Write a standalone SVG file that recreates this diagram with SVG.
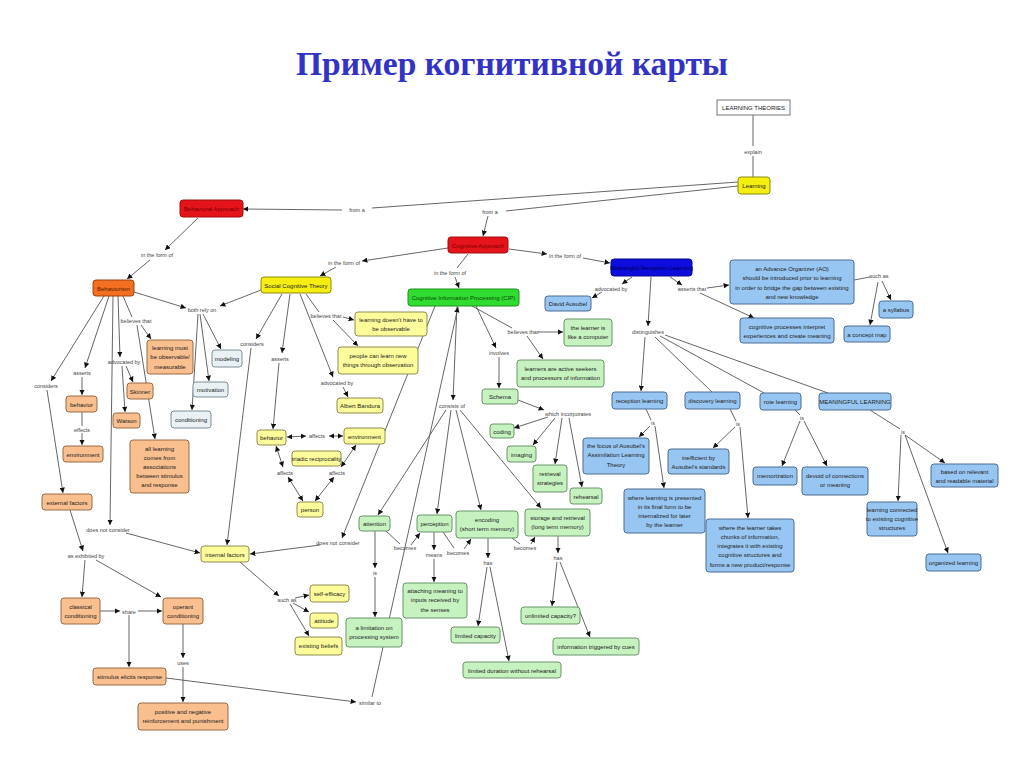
<svg xmlns="http://www.w3.org/2000/svg" width="1024" height="767" viewBox="0 0 1024 767">
<style>
.t{font-family:'Liberation Sans',Arial,sans-serif;font-size:6px;fill:#222;text-anchor:middle}
.k{font-family:'Liberation Sans',Arial,sans-serif;font-size:5.5px;fill:#444;text-anchor:middle}
rect{stroke-width:1}
.red{fill:#e5131a;stroke:#a01010}
.org{fill:#f36f21;stroke:#a04010}
.pch{fill:#f9bf8e;stroke:#9a6a45}
.yel{fill:#f5ee10;stroke:#8a8a10}
.lyl{fill:#fdfc9a;stroke:#8e8c50}
.grn{fill:#2fdc2f;stroke:#1f8f1f}
.lgr{fill:#c6f2c0;stroke:#6a956a}
.dbl{fill:#0d0dde;stroke:#070790}
.lbl{fill:#98c6f2;stroke:#4d6d94}
.gry{fill:#e9f1f4;stroke:#7d8e96}
.wht{fill:#fff;stroke:#777}
#edges line{stroke:#555;stroke-width:0.9;fill:none}
#edges .a{marker-end:url(#ah)}
#edges .d{marker-end:url(#ah);marker-start:url(#ah)}
</style>
<defs>
<marker id="ah" viewBox="0 0 10 10" refX="10" refY="5" markerWidth="6" markerHeight="6" orient="auto-start-reverse"><path d="M0,0 L10,5 L0,10 z" fill="#111"/></marker>
</defs>
<rect width="1024" height="767" fill="#fff"/>
<text x="512" y="75" font-family="'Liberation Serif','Times New Roman',serif" font-size="33.5" font-weight="bold" fill="#3232c4" text-anchor="middle">Пример когнитивной карты</text>

<g id="edges">
<line x1="753" y1="115" x2="753" y2="146"/>
<line x1="753" y1="156" x2="753" y2="177"/>
<line x1="738" y1="182" x2="372" y2="208"/>
<line class="a" x1="342" y1="210" x2="243" y2="209"/>
<line x1="738" y1="186" x2="506" y2="211"/>
<line class="a" x1="488" y1="216" x2="483" y2="236"/>
<line class="a" x1="198" y1="218" x2="165" y2="250"/>
<line class="a" x1="150" y1="260" x2="127" y2="279"/>
<line class="a" x1="448" y1="248" x2="362" y2="261"/>
<line class="a" x1="336" y1="267" x2="320" y2="276"/>
<line x1="468" y1="254" x2="457" y2="268"/>
<line class="a" x1="455" y1="277" x2="459" y2="288"/>
<line class="a" x1="509" y1="249" x2="547" y2="254"/>
<line class="a" x1="583" y1="258" x2="610" y2="263"/>
<line class="a" x1="632" y1="277" x2="622" y2="284"/>
<line class="a" x1="602" y1="292" x2="592" y2="298"/>
<line class="a" x1="670" y1="277" x2="682" y2="285"/>
<line class="a" x1="707" y1="288" x2="729" y2="285"/>
<line class="a" x1="700" y1="293" x2="754" y2="318"/>
<line class="a" x1="651" y1="277" x2="648" y2="326"/>
<line class="a" x1="645" y1="337" x2="641" y2="391"/>
<line x1="655" y1="337" x2="712" y2="392"/>
<line x1="660" y1="336" x2="764" y2="393"/>
<line x1="665" y1="335" x2="828" y2="393"/>
<line x1="854" y1="280" x2="870" y2="277"/>
<line class="a" x1="882" y1="281" x2="891" y2="300"/>
<line class="a" x1="878" y1="282" x2="870" y2="325"/>
<line x1="646" y1="409" x2="651" y2="420"/>
<line class="a" x1="650" y1="426" x2="639" y2="437"/>
<line class="a" x1="655" y1="426" x2="664" y2="488"/>
<line x1="730" y1="409" x2="736" y2="421"/>
<line class="a" x1="735" y1="427" x2="713" y2="448"/>
<line class="a" x1="740" y1="427" x2="748" y2="518"/>
<line x1="795" y1="410" x2="800" y2="415"/>
<line class="a" x1="800" y1="421" x2="782" y2="466"/>
<line class="a" x1="804" y1="421" x2="827" y2="466"/>
<line x1="870" y1="410" x2="900" y2="429"/>
<line class="a" x1="905" y1="435" x2="945" y2="463"/>
<line class="a" x1="901" y1="435" x2="898" y2="501"/>
<line class="a" x1="905" y1="435" x2="948" y2="553"/>
<line x1="472" y1="306" x2="512" y2="328"/>
<line class="a" x1="538" y1="332" x2="563" y2="332"/>
<line class="a" x1="527" y1="336" x2="543" y2="359"/>
<line class="a" x1="476" y1="306" x2="496" y2="348"/>
<line class="a" x1="499" y1="357" x2="499" y2="388"/>
<line class="a" x1="518" y1="400" x2="544" y2="410"/>
<line class="a" x1="548" y1="417" x2="514" y2="428"/>
<line class="a" x1="555" y1="418" x2="533" y2="445"/>
<line class="a" x1="562" y1="418" x2="555" y2="464"/>
<line class="a" x1="569" y1="418" x2="582" y2="487"/>
<line class="a" x1="457" y1="306" x2="453" y2="400"/>
<line class="a" x1="446" y1="410" x2="378" y2="515"/>
<line class="a" x1="451" y1="410" x2="437" y2="514"/>
<line class="a" x1="456" y1="410" x2="481" y2="510"/>
<line class="a" x1="460" y1="410" x2="541" y2="508"/>
<line class="a" x1="435" y1="306" x2="342" y2="538"/>
<line class="a" x1="320" y1="545" x2="250" y2="554"/>
<line class="a" x1="372" y1="697" x2="458" y2="307"/>
<line class="a" x1="166" y1="678" x2="356" y2="702"/>
<line class="a" x1="375" y1="531" x2="375" y2="568"/>
<line class="a" x1="375" y1="577" x2="375" y2="617"/>
<line x1="386" y1="531" x2="400" y2="544"/>
<line class="a" x1="411" y1="545" x2="420" y2="533"/>
<line class="a" x1="434" y1="532" x2="434" y2="550"/>
<line class="a" x1="434" y1="559" x2="434" y2="582"/>
<line x1="443" y1="532" x2="454" y2="548"/>
<line class="a" x1="464" y1="549" x2="471" y2="539"/>
<line x1="512" y1="538" x2="520" y2="544"/>
<line class="a" x1="531" y1="544" x2="535" y2="537"/>
<line class="a" x1="488" y1="538" x2="488" y2="558"/>
<line class="a" x1="487" y1="567" x2="478" y2="626"/>
<line class="a" x1="490" y1="567" x2="509" y2="661"/>
<line class="a" x1="558" y1="536" x2="558" y2="553"/>
<line class="a" x1="557" y1="562" x2="552" y2="606"/>
<line class="a" x1="560" y1="562" x2="590" y2="637"/>
<line class="a" x1="134" y1="292" x2="186" y2="308"/>
<line class="a" x1="261" y1="290" x2="220" y2="306"/>
<line class="a" x1="203" y1="314" x2="221" y2="349"/>
<line class="a" x1="200" y1="314" x2="209" y2="381"/>
<line class="a" x1="198" y1="314" x2="192" y2="410"/>
<line x1="123" y1="296" x2="132" y2="317"/>
<line class="a" x1="141" y1="325" x2="151" y2="339"/>
<line class="a" x1="137" y1="325" x2="155" y2="439"/>
<line class="a" x1="118" y1="296" x2="120" y2="357"/>
<line class="a" x1="126" y1="366" x2="133" y2="382"/>
<line class="a" x1="122" y1="366" x2="125" y2="412"/>
<line class="a" x1="109" y1="296" x2="85" y2="368"/>
<line class="a" x1="82" y1="377" x2="82" y2="395"/>
<line x1="82" y1="412" x2="82" y2="426"/>
<line class="a" x1="82" y1="433" x2="82" y2="445"/>
<line class="a" x1="104" y1="296" x2="51" y2="381"/>
<line class="a" x1="47" y1="390" x2="63" y2="493"/>
<line class="a" x1="113" y1="296" x2="110" y2="525"/>
<line class="a" x1="126" y1="533" x2="200" y2="553"/>
<line class="a" x1="70" y1="510" x2="83" y2="551"/>
<line class="a" x1="85" y1="560" x2="82" y2="597"/>
<line class="a" x1="96" y1="560" x2="161" y2="597"/>
<line class="a" x1="100" y1="611" x2="120" y2="611"/>
<line class="a" x1="138" y1="611" x2="162" y2="611"/>
<line class="a" x1="129" y1="615" x2="129" y2="667"/>
<line class="a" x1="183" y1="624" x2="183" y2="658"/>
<line class="a" x1="183" y1="667" x2="183" y2="702"/>
<line class="a" x1="282" y1="294" x2="256" y2="339"/>
<line class="a" x1="251" y1="348" x2="227" y2="545"/>
<line class="a" x1="290" y1="294" x2="282" y2="353"/>
<line class="a" x1="279" y1="363" x2="273" y2="429"/>
<line x1="306" y1="294" x2="319" y2="312"/>
<line class="a" x1="343" y1="317" x2="354" y2="320"/>
<line class="a" x1="333" y1="320" x2="358" y2="346"/>
<line class="a" x1="300" y1="294" x2="333" y2="377"/>
<line class="a" x1="343" y1="387" x2="348" y2="397"/>
<line class="d" x1="287" y1="437" x2="306" y2="436"/>
<line class="d" x1="329" y1="436" x2="343" y2="436"/>
<line class="d" x1="276" y1="446" x2="283" y2="467"/>
<line class="d" x1="288" y1="477" x2="303" y2="501"/>
<line class="d" x1="356" y1="445" x2="341" y2="467"/>
<line class="d" x1="334" y1="477" x2="315" y2="501"/>
<line class="a" x1="240" y1="562" x2="279" y2="596"/>
<line class="a" x1="295" y1="598" x2="309" y2="595"/>
<line class="a" x1="293" y1="603" x2="309" y2="612"/>
<line class="a" x1="290" y1="604" x2="309" y2="636"/>
</g>

<g id="linklabels">
<text class="k" x="753" y="154">explain</text>
<text class="k" x="357" y="212">from a</text>
<text class="k" x="490" y="214">from a</text>
<text class="k" x="157" y="257">in the form of</text>
<text class="k" x="344" y="265">in the form of</text>
<text class="k" x="450" y="275">in the form of</text>
<text class="k" x="565" y="258">in the form of</text>
<text class="k" x="611" y="291">advocated by</text>
<text class="k" x="692" y="291">asserts that</text>
<text class="k" x="879" y="278">such as</text>
<text class="k" x="648" y="334">distinguishes</text>
<text class="k" x="523" y="334">believes that</text>
<text class="k" x="499" y="355">involves</text>
<text class="k" x="568" y="416">which incorporates</text>
<text class="k" x="653" y="425">is</text>
<text class="k" x="738" y="426">is</text>
<text class="k" x="802" y="420">is</text>
<text class="k" x="903" y="434">is</text>
<text class="k" x="202" y="312">both rely on</text>
<text class="k" x="136" y="323">believes that</text>
<text class="k" x="46" y="388">considers</text>
<text class="k" x="82" y="375">asserts</text>
<text class="k" x="124" y="364">advocated by</text>
<text class="k" x="82" y="432">effects</text>
<text class="k" x="108" y="532">does not consider</text>
<text class="k" x="86" y="558">as exhibited by</text>
<text class="k" x="129" y="614">share</text>
<text class="k" x="183" y="665">uses</text>
<text class="k" x="370" y="705">similar to</text>
<text class="k" x="252" y="346">considers</text>
<text class="k" x="280" y="361">asserts</text>
<text class="k" x="326" y="318">believes that</text>
<text class="k" x="337" y="385">advocated by</text>
<text class="k" x="317" y="438">affects</text>
<text class="k" x="285" y="475">affects</text>
<text class="k" x="337" y="475">affects</text>
<text class="k" x="287" y="602">such as</text>
<text class="k" x="452" y="408">consists of</text>
<text class="k" x="338" y="545">does not consider</text>
<text class="k" x="405" y="550">becomes</text>
<text class="k" x="434" y="557">means</text>
<text class="k" x="458" y="555">becomes</text>
<text class="k" x="525" y="550">becomes</text>
<text class="k" x="375" y="575">is</text>
<text class="k" x="488" y="565">has</text>
<text class="k" x="558" y="560">has</text>
</g>

<g id="n-learning-theories"><rect class="wht" x="717" y="100" width="73" height="15"/><text class="t" x="753.5" y="110">LEARNING THEORIES</text></g>
<g id="n-learning"><rect class="yel" x="738" y="177" width="32" height="17" rx="3"/><text class="t" x="754" y="188">Learning</text></g>
<g id="n-behavioral-approach"><rect class="red" x="180" y="200" width="63" height="17" rx="3"/><text class="t" x="211.5" y="211" style="fill:#7a0000">Behavioral Approach</text></g>
<g id="n-cognitive-approach"><rect class="red" x="448" y="237" width="60" height="16" rx="3"/><text class="t" x="478" y="247.5" style="fill:#7a0000">Cognitive Approach</text></g>
<g id="n-meaningful-reception"><rect class="dbl" x="611" y="259" width="81" height="17" rx="3"/><text class="t" x="651.5" y="270" style="fill:#000050">Meaningful Reception Learning</text></g>
<g id="n-david-ausubel"><rect class="lbl" x="545" y="296" width="46" height="15" rx="3"/><text class="t" x="568" y="306">David Ausubel</text></g>
<g id="n-advance-organizer"><rect class="lbl" x="730" y="260" width="124" height="44" rx="3"/><text class="t" x="792" y="271">an Advance Organizer (AO)<tspan x="792" dy="9.3">should be introduced prior to learning</tspan><tspan x="792" dy="9.3">in order to bridge the gap between existing</tspan><tspan x="792" dy="9.3">and new knowledge</tspan></text></g>
<g id="n-syllabus"><rect class="lbl" x="879" y="301" width="34" height="17" rx="3"/><text class="t" x="896" y="312">a syllabus</text></g>
<g id="n-concept-map"><rect class="lbl" x="844" y="326" width="46" height="16" rx="3"/><text class="t" x="867" y="336.5">a concept map</text></g>
<g id="n-cognitive-processes"><rect class="lbl" x="740" y="318" width="94" height="25" rx="3"/><text class="t" x="787" y="328.5">cognitive processes interpret<tspan x="787" dy="9">experiences and create meaning</tspan></text></g>
<g id="n-learner-computer"><rect class="lgr" x="564" y="319" width="48" height="27" rx="3"/><text class="t" x="588" y="330">the learner is<tspan x="588" dy="9">like a computer</tspan></text></g>
<g id="n-active-seekers"><rect class="lgr" x="517" y="360" width="87" height="27" rx="3"/><text class="t" x="560.5" y="371">learners are active seekers<tspan x="560.5" dy="9">and processors of information</tspan></text></g>
<g id="n-schema"><rect class="lgr" x="482" y="389" width="36" height="15" rx="3"/><text class="t" x="500" y="399">Schema</text></g>
<g id="n-coding"><rect class="lgr" x="490" y="424" width="24" height="14" rx="3"/><text class="t" x="502" y="433.5">coding</text></g>
<g id="n-imaging"><rect class="lgr" x="507" y="446" width="29" height="16" rx="3"/><text class="t" x="521.5" y="456.5">imaging</text></g>
<g id="n-retrieval"><rect class="lgr" x="533" y="465" width="34" height="27" rx="3"/><text class="t" x="550" y="476">retrieval<tspan x="550" dy="9">strategies</tspan></text></g>
<g id="n-rehearsal"><rect class="lgr" x="570" y="488" width="32" height="16" rx="3"/><text class="t" x="586" y="498.5">rehearsal</text></g>
<g id="n-reception"><rect class="lbl" x="612" y="392" width="55" height="17" rx="3"/><text class="t" x="639.5" y="403">reception learning</text></g>
<g id="n-discovery"><rect class="lbl" x="685" y="392" width="55" height="17" rx="3"/><text class="t" x="712.5" y="403">discovery learning</text></g>
<g id="n-rote"><rect class="lbl" x="760" y="393" width="41" height="17" rx="3"/><text class="t" x="780.5" y="404">rote learning</text></g>
<g id="n-meaningful"><rect class="lbl" x="819" y="393" width="72" height="17" rx="3"/><text class="t" x="855" y="404">MEANINGFUL LEARNING</text></g>
<g id="n-focus"><rect class="lbl" x="583" y="438" width="66" height="36" rx="3"/><text class="t" x="616" y="448">the focus of Ausubel's<tspan x="616" dy="9.3">Assimilation Learning</tspan><tspan x="616" dy="9.3">Theory</tspan></text></g>
<g id="n-inefficient"><rect class="lbl" x="668" y="449" width="61" height="25" rx="3"/><text class="t" x="698.5" y="459.5">inefficient by<tspan x="698.5" dy="9">Ausubel's standards</tspan></text></g>
<g id="n-final-form"><rect class="lbl" x="624" y="489" width="81" height="44" rx="3"/><text class="t" x="664.5" y="499.5">where learning is presented<tspan x="664.5" dy="9.3">in its final form to be</tspan><tspan x="664.5" dy="9.3">internalized for later</tspan><tspan x="664.5" dy="9.3">by the learner</tspan></text></g>
<g id="n-chunks"><rect class="lbl" x="706" y="519" width="88" height="53" rx="3"/><text class="t" x="750" y="529.5">where the learner takes<tspan x="750" dy="9.3">chunks of information,</tspan><tspan x="750" dy="9.3">integrates it with existing</tspan><tspan x="750" dy="9.3">cognitive structures and</tspan><tspan x="750" dy="9.3">forms a new product/response</tspan></text></g>
<g id="n-memorization"><rect class="lbl" x="753" y="467" width="44" height="18" rx="3"/><text class="t" x="775" y="478">memorization</text></g>
<g id="n-devoid"><rect class="lbl" x="802" y="467" width="66" height="28" rx="3"/><text class="t" x="835" y="478">devoid of connections<tspan x="835" dy="9">or meaning</tspan></text></g>
<g id="n-relevant"><rect class="lbl" x="931" y="464" width="67" height="23" rx="3"/><text class="t" x="964.5" y="474">based on relevant<tspan x="964.5" dy="8.5">and readable material</tspan></text></g>
<g id="n-connected"><rect class="lbl" x="867" y="502" width="50" height="34" rx="3"/><text class="t" x="892" y="512">learning connected<tspan x="892" dy="9">to existing cognitive</tspan><tspan x="892" dy="9">structures</tspan></text></g>
<g id="n-organized"><rect class="lbl" x="926" y="554" width="55" height="17" rx="3"/><text class="t" x="953.5" y="565">organized learning</text></g>

<g id="n-behaviorism"><rect class="org" x="93" y="280" width="41" height="16" rx="3"/><text class="t" x="113.5" y="290.5" style="fill:#5a1a00">Behaviorism</text></g>
<g id="n-sct"><rect class="yel" x="261" y="277" width="70" height="16" rx="3"/><text class="t" x="296" y="287.5">Social Cognitive Theory</text></g>
<g id="n-cip"><rect class="grn" x="408" y="289" width="111" height="17" rx="3"/><text class="t" x="463.5" y="300" style="fill:#0a4a0a">Cognitive Information Processing (CIP)</text></g>
<g id="n-observable"><rect class="pch" x="147" y="340" width="46" height="34" rx="3"/><text class="t" x="170" y="350">learning must<tspan x="170" dy="9.3">be observable/</tspan><tspan x="170" dy="9.3">measurable</tspan></text></g>
<g id="n-modeling"><rect class="gry" x="212" y="350" width="30" height="17" rx="3"/><text class="t" x="227" y="361">modeling</text></g>
<g id="n-motivation"><rect class="gry" x="193" y="382" width="35" height="15" rx="3"/><text class="t" x="210.5" y="392">motivation</text></g>
<g id="n-conditioning"><rect class="gry" x="171" y="411" width="40" height="17" rx="3"/><text class="t" x="191" y="422">conditioning</text></g>
<g id="n-behavior-b"><rect class="pch" x="66" y="396" width="31" height="16" rx="3"/><text class="t" x="81.5" y="406.5">behavior</text></g>
<g id="n-environment-b"><rect class="pch" x="63" y="446" width="40" height="16" rx="3"/><text class="t" x="83" y="456.5">environment</text></g>
<g id="n-skinner"><rect class="pch" x="127" y="383" width="26" height="16" rx="3"/><text class="t" x="140" y="393.5">Skinner</text></g>
<g id="n-watson"><rect class="pch" x="113" y="413" width="27" height="15" rx="3"/><text class="t" x="126.5" y="423">Watson</text></g>
<g id="n-associations"><rect class="pch" x="130" y="440" width="59" height="53" rx="3"/><text class="t" x="159.5" y="451">all learning<tspan x="159.5" dy="9">comes from</tspan><tspan x="159.5" dy="9">associations</tspan><tspan x="159.5" dy="9">between stimulus</tspan><tspan x="159.5" dy="9">and response</tspan></text></g>
<g id="n-external"><rect class="pch" x="42" y="494" width="50" height="16" rx="3"/><text class="t" x="67" y="504.5">external factors</text></g>
<g id="n-internal"><rect class="lyl" x="201" y="546" width="48" height="16" rx="3"/><text class="t" x="225" y="556.5">internal factors</text></g>
<g id="n-classical"><rect class="pch" x="61" y="598" width="39" height="26" rx="3"/><text class="t" x="80.5" y="608.5">classical<tspan x="80.5" dy="9">conditioning</tspan></text></g>
<g id="n-operant"><rect class="pch" x="163" y="598" width="40" height="26" rx="3"/><text class="t" x="183" y="608.5">operant<tspan x="183" dy="9">conditioning</tspan></text></g>
<g id="n-stimulus"><rect class="pch" x="93" y="668" width="73" height="17" rx="3"/><text class="t" x="129.5" y="679">stimulus elicits response</text></g>
<g id="n-reinforcement"><rect class="pch" x="138" y="703" width="90" height="27" rx="3"/><text class="t" x="183" y="714">positive and negative<tspan x="183" dy="9">reinforcement and punishment</tspan></text></g>
<g id="n-not-observable"><rect class="lyl" x="355" y="312" width="72" height="24" rx="3"/><text class="t" x="391" y="322">learning doesn't have to<tspan x="391" dy="9">be observable</tspan></text></g>
<g id="n-observation"><rect class="lyl" x="338" y="347" width="80" height="27" rx="3"/><text class="t" x="378" y="358">people can learn new<tspan x="378" dy="9">things through observation</tspan></text></g>
<g id="n-bandura"><rect class="lyl" x="337" y="398" width="46" height="15" rx="3"/><text class="t" x="360" y="408">Albert Bandura</text></g>
<g id="n-behavior-s"><rect class="lyl" x="257" y="430" width="29" height="15" rx="3"/><text class="t" x="271.5" y="440">behavior</text></g>
<g id="n-environment-s"><rect class="lyl" x="344" y="428" width="41" height="16" rx="3"/><text class="t" x="364.5" y="438.5">environment</text></g>
<g id="n-triadic"><rect class="lyl" x="292" y="451" width="49" height="15" rx="3"/><text class="t" x="316.5" y="461">triadic reciprocality</text></g>
<g id="n-person"><rect class="lyl" x="297" y="502" width="26" height="15" rx="3"/><text class="t" x="310" y="512">person</text></g>
<g id="n-self-efficacy"><rect class="lyl" x="310" y="585" width="39" height="17" rx="3"/><text class="t" x="329.5" y="596">self-efficacy</text></g>
<g id="n-attitude"><rect class="lyl" x="310" y="613" width="28" height="15" rx="3"/><text class="t" x="324" y="623">attitude</text></g>
<g id="n-beliefs"><rect class="lyl" x="295" y="637" width="47" height="18" rx="3"/><text class="t" x="318.5" y="648">existing beliefs</text></g>
<g id="n-attention"><rect class="lgr" x="359" y="516" width="31" height="15" rx="3"/><text class="t" x="374.5" y="526">attention</text></g>
<g id="n-perception"><rect class="lgr" x="417" y="515" width="35" height="17" rx="3"/><text class="t" x="434.5" y="526">perception</text></g>
<g id="n-encoding"><rect class="lgr" x="456" y="511" width="62" height="27" rx="3"/><text class="t" x="487" y="522">encoding<tspan x="487" dy="9">(short term memory)</tspan></text></g>
<g id="n-storage"><rect class="lgr" x="525" y="509" width="65" height="27" rx="3"/><text class="t" x="557.5" y="520">storage and retrieval<tspan x="557.5" dy="9">(long term memory)</tspan></text></g>
<g id="n-limitation"><rect class="lgr" x="346" y="618" width="56" height="29" rx="3"/><text class="t" x="374" y="629.5">a limitation on<tspan x="374" dy="9">processing system</tspan></text></g>
<g id="n-attaching"><rect class="lgr" x="403" y="583" width="64" height="35" rx="3"/><text class="t" x="435" y="593">attaching meaning to<tspan x="435" dy="9.3">inputs received by</tspan><tspan x="435" dy="9.3">the senses</tspan></text></g>
<g id="n-limited-capacity"><rect class="lgr" x="451" y="627" width="49" height="16" rx="3"/><text class="t" x="475.5" y="637.5">limited capacity</text></g>
<g id="n-limited-duration"><rect class="lgr" x="463" y="662" width="98" height="16" rx="3"/><text class="t" x="512" y="672.5">limited duration without rehearsal</text></g>
<g id="n-unlimited"><rect class="lgr" x="521" y="607" width="59" height="17" rx="3"/><text class="t" x="550.5" y="618">unlimited capacity?</text></g>
<g id="n-cues"><rect class="lgr" x="553" y="638" width="86" height="17" rx="3"/><text class="t" x="596" y="649">information triggered by cues</text></g>
</svg>
